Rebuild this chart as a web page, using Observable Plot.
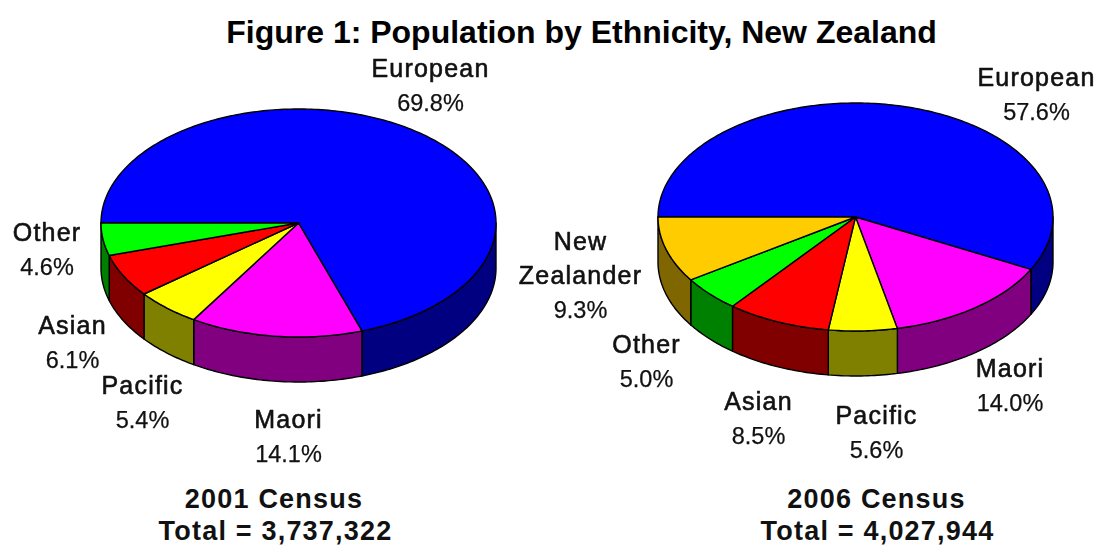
<!DOCTYPE html>
<html>
<head>
<meta charset="utf-8">
<script src="https://cdn.jsdelivr.net/npm/d3@7"></script>
<script src="https://cdn.jsdelivr.net/npm/@observablehq/plot@0.6"></script>
<style>
html,body{margin:0;padding:0;background:#fff}
svg{display:block;font-family:"Liberation Sans",Arial,sans-serif}
</style>
</head>
<body>
<div id="chart"></div>
<script>
// ---- data ----
const categories2001 = ["European", "Maori", "Pacific", "Asian", "Other"];
const values2001 = [69.8, 14.1, 5.4, 6.1, 4.6];
const categories2006 = ["European", "Maori", "Pacific", "Asian", "Other", "New Zealander"];
const values2006 = [57.6, 14.0, 5.6, 8.5, 5.0, 9.3];
const titleText = "Figure 1: Population by Ethnicity, New Zealand";
const censusLabels = ["2001 Census", "2006 Census"];
const totalLabels = ["Total = 3,737,322", "Total = 4,027,944"];

// ---- styles ----
const topColors = {European:"#0000ff", Maori:"#ff00ff", Pacific:"#ffff00", Asian:"#ff0000", Other:"#00ff00", "New Zealander":"#ffcc00"};
const sideColors = {European:"#000080", Maori:"#800080", Pacific:"#808000", Asian:"#800000", Other:"#008000", "New Zealander":"#806600"};

// ---- layout ----
const W = 1098, H = 545;
const pie2001 = {cx:298, cy:222.5, rx:197.5, ry:114, depth:45};
const pie2006 = {cx:855, cy:216.5, rx:197.5, ry:114, depth:45};
const nameX2001 = {European:430, Maori:288, Pacific:142, Asian:72, Other:46.5};
const nameY2001 = {European:76, Maori:427, Pacific:393, Asian:333, Other:240};
const nameX2006 = {European:1036, Maori:1009.5, Pacific:876, Asian:758, Other:646, "New Zealander":580};
const nameY2006 = {European:85, Maori:376.5, Pacific:423, Asian:409, Other:352.5, "New Zealander":283.5};
const lineGap = 34;

function wedges(cats, vals, pie) {
  const top = [], side = [];
  let acc = 0;
  const pt = (deg, drop = 0) => {
    const t = deg * Math.PI / 180;
    return {x: pie.cx - pie.rx * Math.cos(t), y: pie.cy - pie.ry * Math.sin(t) + drop};
  };
  cats.forEach((c, i) => {
    const a0 = acc, a1 = acc + vals[i] * 3.6;
    acc = a1;
    const arc = (from, to, drop) => {
      const n = Math.max(1, Math.ceil(Math.abs(to - from)));
      return d3.range(n + 1).map(k => pt(from + (to - from) * k / n, drop));
    };
    top.push({cat: c, pts: [{x: pie.cx, y: pie.cy}, ...arc(a0, a1, 0), {x: pie.cx, y: pie.cy}]});
    const s0 = Math.max(a0, 180), s1 = Math.min(a1, 360);
    if (s1 > s0) side.push({cat: c, pts: [...arc(s0, s1, 0), ...arc(s1, s0, pie.depth), pt(s0, 0)]});
  });
  return {top, side};
}

function polyMarks(list, colors) {
  return list.map(w => Plot.line(w.pts, {
    x: "x", y: "y", fill: colors[w.cat], stroke: "#000", strokeWidth: 1.4,
    strokeLinejoin: "round", curve: "linear"
  }));
}

const w1 = wedges(categories2001, values2001, pie2001);
const w2 = wedges(categories2006, values2006, pie2006);

const nameRows = [], pctRows = [];
categories2001.forEach((c, i) => {
  nameRows.push({t: c, x: nameX2001[c], y: nameY2001[c]});
  pctRows.push({t: values2001[i].toFixed(1) + "%", x: nameX2001[c], y: nameY2001[c] + lineGap});
});
categories2006.forEach((c, i) => {
  if (c === "New Zealander") {
    nameRows.push({t: "New", x: nameX2006[c], y: nameY2006[c] - lineGap});
    nameRows.push({t: "Zealander", x: nameX2006[c], y: nameY2006[c]});
  } else {
    nameRows.push({t: c, x: nameX2006[c], y: nameY2006[c]});
  }
  pctRows.push({t: values2006[i].toFixed(1) + "%", x: nameX2006[c], y: nameY2006[c] + lineGap});
});
const censusRows = [
  {t: censusLabels[0], x: 273.5, y: 507},
  {t: totalLabels[0], x: 275, y: 539},
  {t: censusLabels[1], x: 876, y: 507},
  {t: totalLabels[1], x: 877, y: 539}
];

const textOpts = {x: "x", y: "y", text: "t", textAnchor: "middle", lineAnchor: "bottom", fill: "#111"};
const styled = css => (i, s, v, d, c, next) => {
  const g = next(i, s, v, d, c);
  g.querySelectorAll("text").forEach(t => t.setAttribute("style", css));
  return g;
};

const plot = Plot.plot({
  width: W, height: H,
  marginTop: 0, marginRight: 0, marginBottom: 0, marginLeft: 0,
  x: {domain: [0, W], range: [0, W], axis: null},
  y: {domain: [0, H], range: [0, H], axis: null},
  marks: [
    ...polyMarks(w1.side, sideColors),
    ...polyMarks(w2.side, sideColors),
    ...polyMarks(w1.top, topColors),
    ...polyMarks(w2.top, topColors),
    Plot.text(nameRows, {...textOpts, fontSize: 25, stroke: "#111", strokeWidth: 0.6, render: styled("letter-spacing:1.2px;filter:blur(.35px)")}),
    Plot.text(pctRows, {...textOpts, fontSize: 23.5, stroke: "#111", strokeWidth: 0.25, render: styled("filter:blur(.35px)")}),
    Plot.text(censusRows, {...textOpts, fontSize: 27, fontWeight: "bold", render: styled("letter-spacing:1.2px")}),
    Plot.text([{t: titleText, x: 581, y: 42.5}], {...textOpts, fontSize: 32, fontWeight: "bold", fill: "#000"})
  ]
});
document.getElementById("chart").append(plot);
</script>
</body>
</html>
